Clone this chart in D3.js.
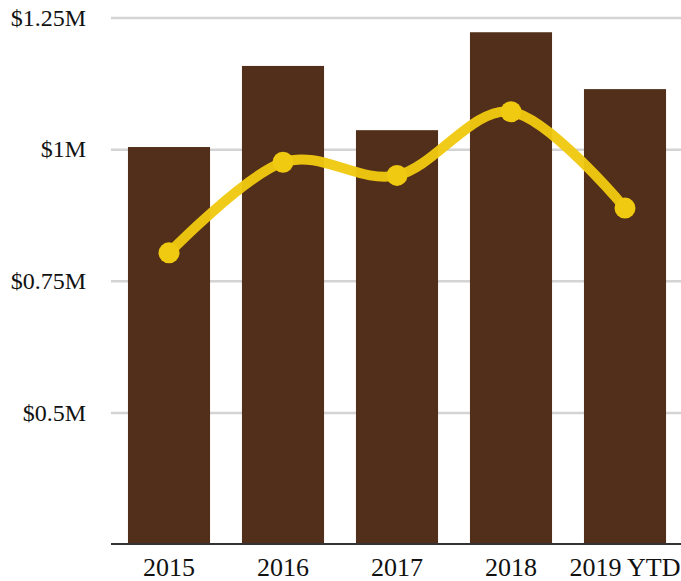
<!DOCTYPE html>
<html>
<head>
<meta charset="utf-8">
<script src="https://cdn.jsdelivr.net/npm/d3@7"></script>
<style>
  html, body { margin: 0; padding: 0; background: #fff; }
  svg text { font-family: "Liberation Serif", "Times New Roman", serif; fill: #111; }
</style>
</head>
<body>
<svg id="chart" width="681" height="581"></svg>
<script>
// Annual totals (bars) and the trend series (line), in millions of dollars
const years = ["2015", "2016", "2017", "2018", "2019 YTD"];
const barValues = [1.004, 1.158, 1.036, 1.222, 1.114];
const lineValues = [0.803, 0.975, 0.950, 1.071, 0.888];
const yTicks = [0.5, 0.75, 1, 1.25];
const yTickLabels = ["$0.5M", "$0.75M", "$1M", "$1.25M"];

const width = 681, height = 581;
const margin = { top: 17.5, right: 0, bottom: 37, left: 111 };

const svg = d3.select("#chart");

const x = d3.scaleBand()
  .domain(years)
  .range([margin.left + 1, width - margin.right + 1])
  .paddingInner(0.28)
  .paddingOuter(0.14);

const y = d3.scaleLinear()
  .domain([0.25, 1.25])
  .range([height - margin.bottom, margin.top]);

// Horizontal gridlines with value labels
const yAxis = d3.axisLeft(y)
  .tickValues(yTicks)
  .tickFormat((d, i) => yTickLabels[i])
  .tickSize(-(width - margin.left - margin.right))
  .tickPadding(25);

const gy = svg.append("g")
  .attr("transform", `translate(${margin.left},0)`)
  .call(yAxis);
gy.select(".domain").remove();
gy.selectAll(".tick line").attr("stroke", "#d4d4d4").attr("stroke-width", 2.5);
gy.selectAll(".tick text").attr("font-size", 24).attr("fill", "#111");

// Bars
svg.append("g")
  .selectAll("rect")
  .data(years)
  .join("rect")
  .attr("x", d => x(d))
  .attr("width", x.bandwidth())
  .attr("y", (d, i) => y(barValues[i]))
  .attr("height", (d, i) => y(0.25) - y(barValues[i]))
  .attr("fill", "#522f1a");

// Category axis along the baseline
const xAxis = d3.axisBottom(x).tickSize(0).tickPadding(14);
const gx = svg.append("g")
  .attr("transform", `translate(0,${y(0.25)})`)
  .call(xAxis);
gx.select(".domain").attr("stroke", "#333").attr("stroke-width", 2)
  .attr("d", `M${margin.left},0H${width}`);
gx.selectAll(".tick text").attr("font-size", 26).attr("fill", "#111");

// Smoothed trend line with point markers
const line = d3.line()
  .x((d, i) => x(years[i]) + x.bandwidth() / 2)
  .y(d => y(d))
  .curve(d3.curveCardinal.tension(0));

svg.append("path")
  .datum(lineValues)
  .attr("d", line)
  .attr("fill", "none")
  .attr("stroke", "#f0c911")
  .attr("stroke-opacity", 0.96)
  .attr("stroke-width", 10)
  .attr("stroke-linecap", "round");

svg.append("g")
  .selectAll("circle")
  .data(lineValues)
  .join("circle")
  .attr("cx", (d, i) => x(years[i]) + x.bandwidth() / 2)
  .attr("cy", d => y(d))
  .attr("r", 10.5)
  .attr("fill", "#f0c911");
</script>
</body>
</html>
